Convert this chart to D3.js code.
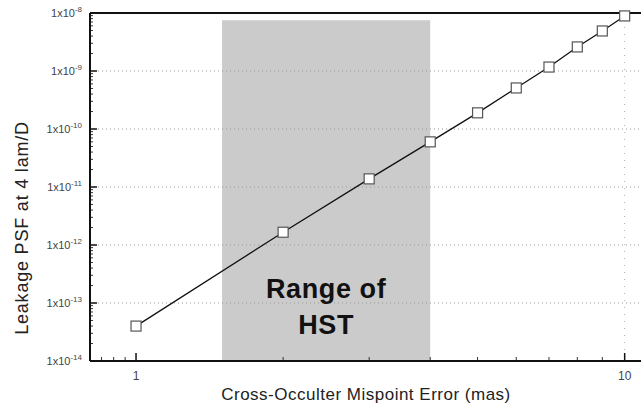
<!DOCTYPE html>
<html><head><meta charset="utf-8">
<script src="https://cdn.jsdelivr.net/npm/d3@7"></script>
<style>body{margin:0;background:#fff}svg{display:block}</style>
</head><body>
<script>
const mispoint = [1, 2, 3, 4, 5, 6, 7, 8, 9, 10];
const leakage = [4.0e-14, 1.66e-12, 1.38e-11, 6.0e-11, 1.9e-10, 5.1e-10, 1.17e-9, 2.6e-9, 4.9e-9, 8.9e-9];
const hstRange = [1.5, 4.0];
const hstTop = 7.5e-9;
const yTickExps = [-8, -9, -10, -11, -12, -13, -14];
const xTickVals = [1, 10];
const xMinor = [0.85, 0.9, 0.95, 2, 3, 4, 5, 6, 7, 8, 9];

const W = 641, H = 409;
const m = {l: 90, t: 13, r: 0, b: 48};
const svg = d3.select("body").append("svg").attr("width", W).attr("height", H);
const x = d3.scaleLog().domain([0.805, 10.8]).range([m.l, W - m.r]);
const y = d3.scaleLog().domain([1e-14, 1e-8]).range([H - m.b, m.t]);
const FONT = "Liberation Sans, Arial, sans-serif";

// shaded HST range
svg.append("rect")
  .attr("x", x(hstRange[0])).attr("y", y(hstTop))
  .attr("width", x(hstRange[1]) - x(hstRange[0]))
  .attr("height", y(1e-14) - y(hstTop))
  .attr("fill", "#cbcbcb");

// gridlines
svg.append("g").selectAll("line").data(yTickExps.slice(1, -1)).join("line")
  .attr("x1", m.l).attr("x2", W).attr("y1", d => y(Math.pow(10, d))).attr("y2", d => y(Math.pow(10, d)))
  .attr("stroke", "#999").attr("stroke-width", 1).attr("stroke-dasharray", "1,3");
svg.append("line").attr("x1", x(10)).attr("x2", x(10)).attr("y1", m.t).attr("y2", H - m.b)
  .attr("stroke", "#aaa").attr("stroke-dasharray", "1,6");

// y axis minor ticks
const yMinor = [];
for (let e = -14; e < -8; e++) for (let k = 2; k <= 9; k++) yMinor.push(k * Math.pow(10, e));
svg.append("g").selectAll("line").data(yMinor).join("line")
  .attr("x1", m.l).attr("x2", m.l + 3).attr("y1", d => y(d)).attr("y2", d => y(d))
  .attr("stroke", "#333").attr("stroke-width", 1);
svg.append("g").selectAll("line").data(yTickExps).join("line")
  .attr("x1", m.l).attr("x2", m.l + 7).attr("y1", d => y(Math.pow(10, d))).attr("y2", d => y(Math.pow(10, d)))
  .attr("stroke", "#111").attr("stroke-width", 1.5);
// x ticks
svg.append("g").selectAll("line").data(xMinor).join("line")
  .attr("x1", d => x(d)).attr("x2", d => x(d)).attr("y1", H - m.b).attr("y2", H - m.b - 4)
  .attr("stroke", "#333");
svg.append("g").selectAll("line").data(xTickVals).join("line")
  .attr("x1", d => x(d)).attr("x2", d => x(d)).attr("y1", H - m.b).attr("y2", H - m.b - 8)
  .attr("stroke", "#111").attr("stroke-width", 1.5);

// frame
svg.append("line").attr("x1", m.l).attr("x2", W).attr("y1", m.t).attr("y2", m.t).attr("stroke", "#111").attr("stroke-width", 2);
svg.append("line").attr("x1", m.l).attr("x2", W).attr("y1", H - m.b).attr("y2", H - m.b).attr("stroke", "#111").attr("stroke-width", 2);
svg.append("line").attr("x1", m.l).attr("x2", m.l).attr("y1", m.t).attr("y2", H - m.b).attr("stroke", "#111").attr("stroke-width", 2);

// y tick labels
const yl = svg.append("g").selectAll("text").data(yTickExps).join("text")
  .attr("x", m.l - 8).attr("y", d => y(Math.pow(10, d)) + 4)
  .attr("text-anchor", "end").attr("font-family", FONT)
  .attr("font-size", 11).attr("fill", "#444");
yl.append("tspan").text("1x10");
yl.append("tspan").attr("dy", -5).attr("font-size", 8).text(d => String(d));

// x tick labels
svg.append("g").selectAll("text").data(xTickVals).join("text")
  .attr("x", d => x(d)).attr("y", H - m.b + 19).attr("text-anchor", "middle")
  .attr("font-family", FONT).attr("font-size", 12).attr("fill", "#444")
  .text(d => d);

// line
const pts = mispoint.map((v, i) => [v, leakage[i]]);
svg.append("path").datum(pts)
  .attr("d", d3.line().x(d => x(d[0])).y(d => y(d[1])))
  .attr("fill", "none").attr("stroke", "#111").attr("stroke-width", 1.3);
const s = 10;
svg.append("g").selectAll("rect").data(pts).join("rect")
  .attr("x", d => x(d[0]) - s / 2).attr("y", d => y(d[1]) - s / 2)
  .attr("width", s).attr("height", s)
  .attr("fill", "#fff").attr("stroke", "#555").attr("stroke-width", 1.2);

// annotation
const ax = (x(hstRange[0]) + x(hstRange[1])) / 2;
const ann = svg.append("text").attr("text-anchor", "middle")
  .attr("font-family", FONT).attr("font-weight", "bold")
  .attr("font-size", 27).attr("letter-spacing", 0.6).attr("fill", "#111");
ann.append("tspan").attr("x", ax).attr("y", 298).text("Range of");
ann.append("tspan").attr("x", ax).attr("y", 334).text("HST");

// axis titles
svg.append("text").attr("x", 366).attr("y", 400).attr("text-anchor", "middle")
  .attr("font-family", FONT).attr("font-size", 17).attr("letter-spacing", 0.5).attr("fill", "#222")
  .text("Cross-Occulter Mispoint Error (mas)");
svg.append("text").attr("transform", "translate(28,228) rotate(-90)").attr("text-anchor", "middle")
  .attr("font-family", FONT).attr("font-size", 18).attr("letter-spacing", 0.8).attr("fill", "#222")
  .text("Leakage PSF at 4 lam/D");
</script>
</body></html>
